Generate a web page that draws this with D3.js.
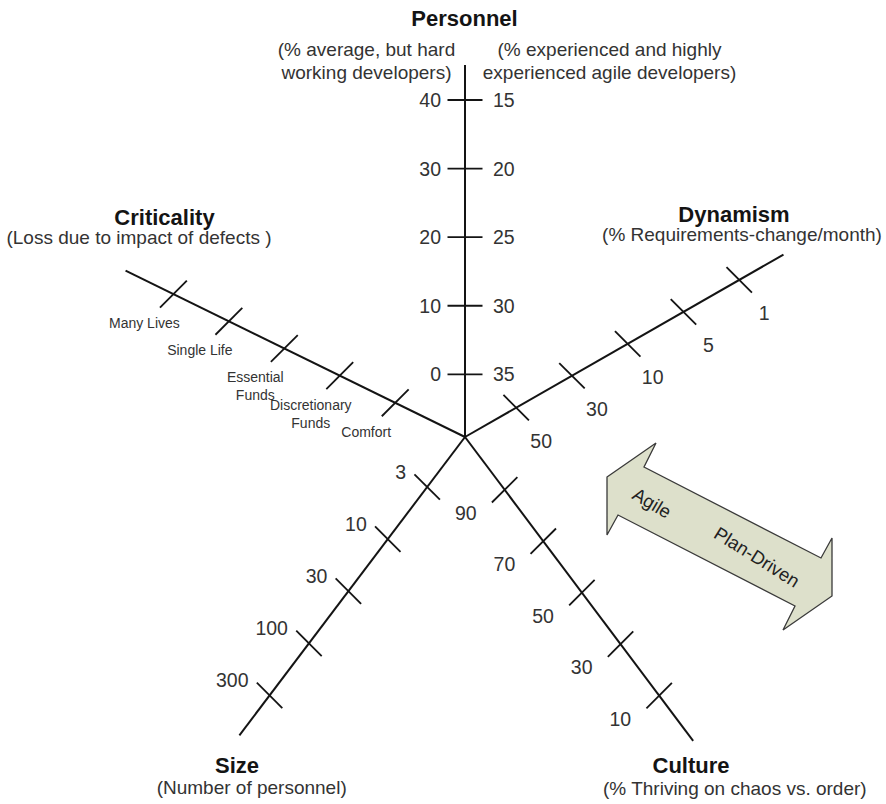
<!DOCTYPE html>
<html><head><meta charset="utf-8">
<script src="https://cdn.jsdelivr.net/npm/d3@7"></script>
<style>
body{margin:0;background:#fff}
svg{display:block}
text{font-family:"Liberation Sans",Arial,Helvetica,sans-serif}
</style>
</head><body>
<svg id="chart" width="886" height="804"></svg>
<script>
// ---------- data ----------
const axisNames = ["Personnel", "Dynamism", "Culture", "Size", "Criticality"];
const personnelLeftTicks = [0, 10, 20, 30, 40];
const personnelRightTicks = [35, 30, 25, 20, 15];
const dynamismTicks = ["50", "30", "10", "5", "1"];
const cultureTicks = ["90", "70", "50", "30", "10"];
const sizeTicks = ["3", "10", "30", "100", "300"];
const criticalityTicks = ["Comfort", "Discretionary|Funds", "Essential|Funds", "Single Life", "Many Lives"];
const personnelLeftSub = ["(% average, but hard", "working developers)"];
const personnelRightSub = ["(% experienced and highly", "experienced agile developers)"];
const dynamismSub = "(% Requirements-change/month)";
const criticalitySub = "(Loss due to impact of defects )";
const sizeSub = "(Number of personnel)";
const cultureSub = "(% Thriving on chaos vs. order)";
const arrowLabels = ["Agile", "Plan-Driven"];

// ---------- layout ----------
const cx = 465, cy = 437;
const svg = d3.select("#chart");
const rad = d => d * Math.PI / 180;
const pt = (angle, r) => [cx + r * Math.cos(rad(angle)), cy - r * Math.sin(rad(angle))];

const axisLayout = {
  Personnel:   {angle: 90,    len: 372, range: [62.7, 337]},
  Dynamism:    {angle: 29.8,  len: 367, range: [59, 316],   tickDir: 45},
  Culture:     {angle: -53.1, len: 380, range: [66, 323.4], tickDir: -45},
  Size:        {angle: 232.9, len: 374, range: [62.7, 324], tickDir: 45},
  Criticality: {angle: 153.9, len: 378, range: [77.7, 324.7], tickDir: -45}
};

const ink = "#141414";
const gray = "#333";
const tickHalf = 18;
const gAxes = svg.append("g");

// axis lines
axisNames.forEach(n => {
  const L = axisLayout[n];
  const [x2, y2] = pt(L.angle, L.len);
  gAxes.append("line").attr("x1", cx).attr("y1", cy).attr("x2", x2).attr("y2", y2)
    .attr("stroke", ink).attr("stroke-width", 2).attr("stroke-linecap", "butt");
});

function drawTick(x, y, dirDeg, half) {
  const dx = half * Math.cos(rad(dirDeg)), dy = half * Math.sin(rad(dirDeg));
  gAxes.append("line").attr("x1", x - dx).attr("y1", y - dy).attr("x2", x + dx).attr("y2", y + dy)
    .attr("stroke", ink).attr("stroke-width", 1.8);
}

// Personnel axis (linear scales, two label sets)
const pLeft = d3.scaleLinear().domain([0, 40]).range(axisLayout.Personnel.range);
const pRight = d3.scaleLinear().domain([35, 15]).range(axisLayout.Personnel.range);
personnelLeftTicks.forEach(v => {
  const [x, y] = pt(90, pLeft(v));
  drawTick(x, y, 0, 17.5);
  svg.append("text").attr("x", x - 24).attr("y", y + 7).attr("text-anchor", "end")
    .attr("font-size", 19.5).attr("fill", gray).text(v);
});
personnelRightTicks.forEach(v => {
  const [x, y] = pt(90, pRight(v));
  svg.append("text").attr("x", x + 28).attr("y", y + 7).attr("text-anchor", "start")
    .attr("font-size", 19.5).attr("fill", gray).text(v);
});

// ordinal axes
const ordinalAxes = [
  {name: "Dynamism", ticks: dynamismTicks, anchor: "middle", dx: 25, dy: 33},
  {name: "Culture", ticks: cultureTicks, anchor: "end", dx: -28, dy: 23},
  {name: "Size", ticks: sizeTicks, anchor: "end", dx: -21, dy: -15}
];
ordinalAxes.forEach(a => {
  const L = axisLayout[a.name];
  const s = d3.scalePoint().domain(a.ticks).range(L.range);
  a.ticks.forEach(t => {
    const [x, y] = pt(L.angle, s(t));
    drawTick(x, y, L.tickDir, tickHalf);
    svg.append("text").attr("x", x + a.dx).attr("y", y + a.dy + 7)
      .attr("text-anchor", a.anchor).attr("font-size", 19.5).attr("fill", gray).text(t);
  });
});

// Criticality axis
{
  const L = axisLayout.Criticality;
  const s = d3.scalePoint().domain(criticalityTicks).range(L.range);
  criticalityTicks.forEach(t => {
    const [x, y] = pt(L.angle, s(t));
    drawTick(x, y, L.tickDir, tickHalf + 1);
    const lines = t.split("|");
    const txt = svg.append("text").attr("text-anchor", "middle").attr("font-size", 14)
      .attr("fill", gray);
    lines.forEach((ln, i) => {
      txt.append("tspan").attr("x", x - 29).attr("y", y + 29 + 5 + i * 18).text(ln);
    });
  });
}

// ---------- titles ----------
function title(txt, x, y) {
  svg.append("text").attr("x", x).attr("y", y).attr("text-anchor", "middle")
    .attr("font-size", 22).attr("font-weight", "bold").attr("fill", ink).text(txt);
}
function sub(txt, x, y, anchor = "middle") {
  svg.append("text").attr("x", x).attr("y", y).attr("text-anchor", anchor)
    .attr("font-size", 19).attr("fill", gray).text(txt);
}
title(axisNames[0], 464.5, 26);
personnelLeftSub.forEach((t, i) => sub(t, 366.5, 56 + i * 22.5));
personnelRightSub.forEach((t, i) => sub(t, 609.5, 56 + i * 22.5));
title(axisNames[1], 734, 222);
sub(dynamismSub, 742, 240.5);
title(axisNames[4], 164.5, 225);
sub(criticalitySub, 139, 244);
title(axisNames[3], 237, 773);
sub(sizeSub, 251.7, 794);
title(axisNames[2], 691, 773);
sub(cultureSub, 603, 794.5, "start");

// ---------- Agile / Plan-Driven arrow ----------
const arrowCenter = [719.5, 536.5];
const halfShape = [[-112.5, -59.5], [-63.5, -93.5], [-75.5, -69.5]];
const halfShape2 = [[-101.5, -21.5], [-112.5, -1.5]];
const neg = p => [-p[0], -p[1]];
const shape = [
  halfShape[0], halfShape[1], halfShape[2],
  neg(halfShape2[0]), neg(halfShape2[1]),
  neg(halfShape[0]), neg(halfShape[1]), neg(halfShape[2]),
  halfShape2[0], halfShape2[1]
];
const gArrow = svg.append("g").attr("transform", `translate(${arrowCenter[0]},${arrowCenter[1]})`);
gArrow.append("path").attr("d", d3.line()(shape) + "Z")
  .attr("fill", "#dde0cb").attr("stroke", "#3a3a3a").attr("stroke-width", 1.3)
  .attr("stroke-linejoin", "miter");
gArrow.append("text").attr("transform", `translate(${652 - arrowCenter[0]},${503 - arrowCenter[1]}) rotate(31)`)
  .attr("text-anchor", "middle").attr("dy", "0.35em").attr("font-size", 18.5).attr("fill", "#222").text(arrowLabels[0]);
gArrow.append("text").attr("transform", `translate(${757 - arrowCenter[0]},${557 - arrowCenter[1]}) rotate(32)`)
  .attr("text-anchor", "middle").attr("dy", "0.35em").attr("font-size", 18.5).attr("fill", "#222").text(arrowLabels[1]);
</script>
</body></html>
